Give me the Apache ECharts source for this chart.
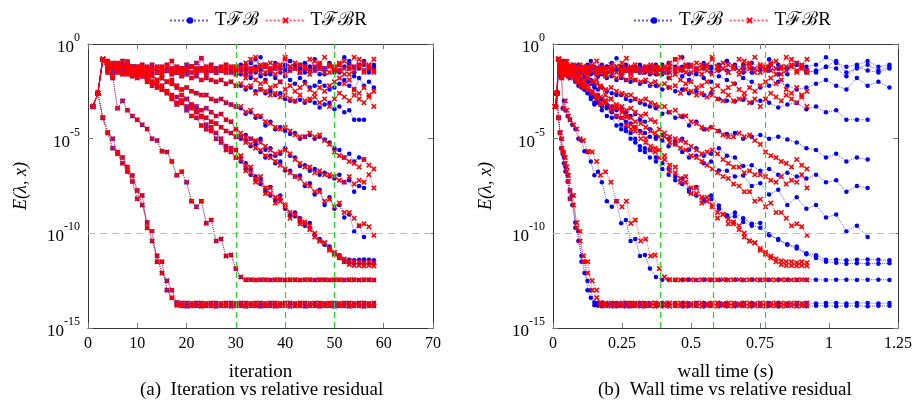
<!DOCTYPE html>
<html>
<head>
<meta charset="utf-8">
<title>Relative residual</title>
<script src="https://cdn.jsdelivr.net/npm/echarts@6/dist/echarts.min.js"></script>
<style>
  html, body { margin: 0; padding: 0; background: #fff; }
  #chart { width: 916px; height: 410px; }
</style>
</head>
<body>
<div id="chart"></div>
<script>
// log10 of the relative residual E(λ, x), one value per iteration (iteration 1 first)

// two fast problems, both methods nearly on top of each other
const p1 = [-3.3, -2.6, -3.9, -4.7, -5.5, -5.7, -6.0, -6.5, -6.95, -7.74,
  -8.5, -9.43, -10.4, -11.19, -12.1, -12.5, -13.0, -13.65,
  -13.68, -13.68, -13.7, -13.68, -13.68, -13.7, -13.68, -13.68, -13.7, -13.68,
  -13.68, -13.7, -13.68, -13.68, -13.7, -13.68, -13.68, -13.7, -13.68, -13.68,
  -13.7, -13.68, -13.68, -13.7, -13.68, -13.68, -13.7, -13.68, -13.68, -13.7,
  -13.68, -13.68, -13.7, -13.68, -13.68, -13.7, -13.68, -13.68, -13.7, -13.68];
const p2 = [-3.3, -2.6, -3.9, -4.67, -5.0, -5.8, -6.3, -6.74, -7.26, -8.18,
  -8.0, -9.7, -9.9, -11.5, -11.5, -13.0, -13.4, -13.8,
  -13.83, -13.85, -13.83, -13.83, -13.85, -13.83, -13.83, -13.85, -13.83, -13.83,
  -13.85, -13.83, -13.83, -13.85, -13.83, -13.83, -13.85, -13.83, -13.83, -13.85,
  -13.83, -13.83, -13.85, -13.83, -13.83, -13.85, -13.83, -13.83, -13.85, -13.83,
  -13.83, -13.85, -13.83, -13.83, -13.85, -13.83, -13.83, -13.85, -13.83, -13.83];
// problem that stalls at about 1e-12.5
const p3 = [-3.3, -2.6, -0.8, -1.3, -1.7, -3.4, -3.0, -3.5, -3.8, -4.0,
  -4.26, -4.49, -5.0, -5.1, -5.67, -5.7, -6.2, -6.93, -6.75, -7.3,
  -8.3, -8.6, -8.3, -9.47, -9.3, -10.4, -10.3, -11.2, -11.15, -11.86,
  -12.3, -12.45, -12.45, -12.46, -12.45, -12.45, -12.46, -12.45, -12.45, -12.46,
  -12.45, -12.45, -12.46, -12.45, -12.45, -12.46, -12.45, -12.45, -12.46, -12.45,
  -12.45, -12.46, -12.45, -12.45, -12.46, -12.45, -12.45, -12.46];

// slower problems: shared first 30 iterations, then T F B / T F B R tails
const p4Head = [-3.3, -2.6, -0.8, -1.3, -1.7, -1.4, -1.3, -1.5, -1.2, -1.5,
  -1.6, -1.7, -1.6, -1.9, -1.8, -2.0, -1.9, -2.3, -2.7, -2.9,
  -3.3, -3.5, -3.86, -4.26, -4.4, -4.7, -5.0, -5.4, -5.5, -5.6];
const p4TailB = [-6.0, -6.3, -6.6, -7.0, -7.1, -7.68, -7.55, -8.2, -8.0, -8.53,
  -9.05, -8.9, -9.2, -9.5, -9.45, -10.05, -10.35, -10.58, -10.7, -11.05,
  -11.16, -11.4, -11.4, -11.42, -11.4, -11.38, -11.4, -11.42];
const p4TailR = [-5.9, -6.4, -6.5, -7.1, -7.0, -7.6, -7.6, -8.1, -8.1, -8.5,
  -8.9, -9.0, -9.25, -9.4, -9.6, -10.0, -10.4, -10.5, -10.8, -11.0,
  -11.2, -11.35, -11.45, -11.5, -11.5, -11.55, -11.5, -11.55];

const p5Head = [-3.3, -2.6, -0.8, -1.0, -1.3, -1.2, -1.5, -1.3, -1.4, -1.6,
  -1.5, -1.8, -2.0, -2.1, -2.4, -2.5, -2.9, -3.2, -3.1, -3.5,
  -3.8, -3.9, -4.3, -4.5, -4.6, -5.0, -5.2, -5.6, -5.7, -6.0];
const p5TailB = [-6.2, -6.6, -6.9, -7.2, -7.4, -7.8, -8.0, -8.3, -8.2, -8.7,
  -9.1, -9.1, -9.4, -9.6, -9.7, -10.1, -10.3, -10.6, -10.8, -11.1,
  -11.3, -11.5, -11.55, -11.6, -11.58, -11.6, -11.6, -11.58];
const p5TailR = [-6.1, -6.7, -6.8, -7.3, -7.3, -7.9, -7.9, -8.4, -8.3, -8.6,
  -9.2, -9.0, -9.5, -9.5, -9.8, -10.2, -10.4, -10.5, -10.9, -11.1,
  -11.3, -11.5, -11.65, -11.7, -11.7, -11.72, -11.7, -11.72];

const p6Head = [-3.3, -2.6, -0.8, -1.2, -1.2, -1.0, -1.3, -1.4, -1.6, -1.5,
  -1.7, -1.9, -2.0, -2.3, -2.2, -2.6, -2.8, -3.1, -3.0, -3.3,
  -3.4, -3.6, -3.8, -3.9, -4.1, -4.2, -4.4, -4.6, -4.7, -4.9];
const p6TailB = [-5.0, -5.1, -5.4, -5.3, -5.7, -6.0, -5.9, -6.3, -6.2, -6.68,
  -6.7, -7.0, -6.95, -7.5, -7.35, -7.95, -7.7, -8.5, -8.1, -8.7,
  -8.5, -9.17, -9.0, -9.9, -9.6, -10.2];
const p6TailR = [-4.9, -5.2, -5.3, -5.5, -5.6, -5.9, -6.0, -6.2, -6.4, -6.6,
  -6.8, -7.0, -7.1, -7.4, -7.5, -7.8, -7.8, -8.3, -8.2, -8.6,
  -8.4, -8.9, -8.9, -9.2, -9.6, -9.5, -9.65, -10.1];

const p7Head = [-3.3, -2.6, -0.8, -1.4, -1.1, -1.3, -1.5, -1.4, -1.7, -1.8,
  -1.7, -2.0, -2.2, -2.1, -2.4, -2.5, -2.7, -2.8, -3.0, -2.9,
  -3.2, -3.3, -3.5, -3.4, -3.6, -3.8, -3.7, -4.0, -4.1, -4.5];
const p7TailB = [-4.9, -4.8, -5.0, -5.14, -5.0, -5.58, -5.5, -5.9, -5.8, -5.5,
  -5.9, -6.0, -6.45, -6.4, -6.7, -6.6, -6.9, -6.8, -7.0, -7.1,
  -6.9, -7.3, -7.2, -7.8, -7.5, -7.6];
const p7TailR = [-4.7, -4.9, -5.0, -5.1, -5.2, -5.4, -5.6, -5.8, -5.7, -5.6,
  -5.8, -6.1, -6.3, -6.5, -6.5, -6.8, -6.7, -6.9, -6.9, -7.0,
  -7.2, -7.3, -7.0, -7.4, -7.2, -7.3, -6.9, -7.6];

const p8Head = [-3.3, -2.6, -0.8, -1.2, -1.0, -1.1, -1.3, -1.2, -1.4, -1.5,
  -1.4, -1.6, -1.7, -1.9, -1.8, -2.0, -2.1, -2.2, -2.4, -2.3,
  -2.5, -2.6, -2.7, -2.7, -2.9, -3.0, -2.9, -3.1, -3.2, -3.3];
const p8TailB = [-3.4, -3.68, -3.6, -3.9, -3.85, -4.3, -4.1, -4.5, -4.4, -4.6,
  -4.75, -4.7, -5.0, -4.9, -4.8, -5.0, -4.9, -5.05, -5.2, -5.5,
  -5.6, -6.0, -5.8, -6.2, -6.0, -6.1];
const p8TailR = [-3.3, -3.6, -3.5, -3.8, -3.8, -4.1, -4.2, -4.4, -4.5, -4.4,
  -4.6, -4.8, -4.9, -4.9, -4.7, -4.9, -4.8, -5.1, -5.3, -5.7,
  -5.9, -6.0, -6.2, -6.3, -6.5, -6.1, -6.4, -6.6];

const p9Head = [-3.3, -2.6, -0.8, -1.0, -1.2, -1.1, -0.9, -1.2, -1.3, -1.2,
  -1.1, -1.3, -1.4, -1.3, -1.5, -1.4, -1.6, -1.5, -1.7, -1.6,
  -1.8, -1.7, -1.9, -1.8, -1.9, -2.0, -1.9, -2.1, -2.0, -2.2];
const p9TailB = [-2.2, -2.4, -2.3, -2.5, -2.4, -2.6, -2.5, -2.7, -2.6, -2.9,
  -3.0, -3.04, -2.95, -3.1, -3.0, -3.1, -3.35, -3.2, -3.1, -3.44,
  -3.3, -3.6, -3.5, -4.0, -4.0, -4.0];
const p9TailR = [-2.1, -2.3, -2.2, -2.6, -2.4, -2.5, -2.7, -2.6, -2.8, -2.7,
  -2.9, -3.0, -2.7, -3.0, -2.9, -2.8, -3.1, -2.9, -3.3, -2.9,
  -2.6, -2.8, -3.0, -2.7, -2.9, -3.1, -2.8, -3.3];

// problems that stagnate around 1e-1 .. 1e-2
const s1Head = [-3.3, -2.6, -0.8, -1.4, -1.2, -1.5, -1.3, -1.1, -1.4, -1.6,
  -1.2, -1.4, -1.3, -1.5, -1.2, -1.4, -1.3, -1.4, -1.5, -1.3,
  -1.2, -1.4, -1.3, -1.5, -1.4, -1.3, -1.4, -1.2, -1.5, -1.3];
const s1TailB = [-1.4, -1.1, -1.5, -1.3, -1.2, -1.6, -1.4, -1.3, -1.5, -1.2,
  -1.4, -1.1, -1.3, -1.5, -1.2, -1.4, -1.3, -1.6, -1.1, -1.4,
  -1.5, -1.2, -1.3, -1.7, -1.2, -1.4, -1.5, -1.3];
const s1TailR = [-1.3, -1.5, -0.8, -1.4, -1.2, -1.5, -1.3, -1.1, -1.4, -1.6,
  -1.2, -1.3, -1.5, -1.2, -1.4, -0.9, -1.3, -1.5, -1.2, -1.4,
  -1.1, -1.6, -1.3, -1.2, -0.8, -1.4, -1.2, -1.5];

const s2Head = [-3.3, -2.6, -0.8, -1.2, -1.5, -1.3, -1.6, -0.93, -1.2, -1.3,
  -1.5, -1.4, -1.1, -1.3, -1.6, -1.4, -0.9, -1.5, -1.3, -1.4,
  -1.2, -1.5, -0.75, -1.3, -1.4, -1.5, -1.3, -1.4, -1.2, -1.4];
const s2TailB = [-1.2, -1.6, -1.3, -0.8, -1.4, -1.2, -1.5, -1.1, -1.3, -1.4,
  -0.9, -1.2, -1.5, -1.3, -1.4, -1.2, -1.6, -1.3, -1.1, -1.5,
  -1.4, -1.2, -0.9, -1.5, -1.3, -1.1, -1.4, -1.2];
const s2TailR = [-1.5, -1.2, -1.4, -1.3, -1.5, -1.1, -1.4, -1.6, -1.2, -0.8,
  -1.4, -1.3, -1.5, -1.2, -1.6, -1.4, -1.1, -1.3, -1.5, -1.2,
  -1.4, -1.3, -1.6, -1.4, -1.2, -1.5, -1.1, -1.4];

const s3Head = [-3.3, -2.6, -0.8, -0.9, -1.3, -1.1, -1.2, -1.6, -1.5, -1.2,
  -1.4, -1.6, -1.3, -1.5, -1.4, -1.2, -1.5, -1.3, -1.6, -1.4,
  -1.5, -1.3, -1.4, -1.6, -1.3, -1.5, -1.4, -1.5, -1.3, -1.6];
const s3TailB = [-1.6, -1.4, -1.8, -1.5, -1.7, -1.9, -1.6, -1.8, -2.0, -1.7,
  -1.9, -2.1, -1.8, -2.0, -2.3, -2.2, -2.0, -2.2, -2.4, -2.3,
  -2.1, -1.9, -2.2, -2.4, -1.8, -2.2, -2.0, -2.3];
const s3TailR = [-1.5, -1.8, -1.6, -1.9, -2.1, -2.0, -2.3, -2.2, -2.0, -2.4,
  -2.2, -2.5, -2.3, -2.1, -2.4, -2.6, -2.3, -2.5, -2.2, -2.0,
  -1.8, -2.1, -1.9, -2.4, -2.6, -2.3, -2.7, -2.5];

const s4Head = [-3.3, -2.6, -0.8, -1.5, -1.8, -1.4, -1.1, -1.3, -1.2, -1.4,
  -1.3, -1.2, -1.4, -1.2, -1.3, -1.1, -1.4, -1.2, -1.3, -1.1,
  -1.2, -1.0, -1.3, -1.2, -1.1, -1.3, -1.2, -1.1, -1.3, -1.2];
const s4TailB = [-1.1, -1.3, -1.0, -1.2, -0.7, -1.1, -1.3, -1.0, -1.2, -1.1,
  -0.9, -1.3, -1.1, -1.0, -1.2, -0.8, -1.1, -1.3, -1.0, -1.2,
  -1.1, -0.7, -1.0, -1.2, -1.1, -0.9, -1.2, -1.1];
const s4TailR = [-1.2, -1.0, -1.3, -0.7, -1.1, -1.2, -1.0, -1.3, -1.1, -0.7,
  -1.2, -1.0, -1.1, -1.3, -0.8, -1.2, -1.0, -0.7, -1.1, -1.3,
  -1.0, -0.9, -1.2, -0.7, -1.1, -1.0, -1.3, -0.8];

// cumulative wall time (s) after each iteration, index = iteration
const wallTimeB = [0, 0.01, 0.015, 0.02, 0.025, 0.03, 0.035, 0.04, 0.045, 0.053,
  0.061, 0.07, 0.081, 0.092, 0.103, 0.114, 0.125, 0.137, 0.15, 0.163,
  0.177, 0.195, 0.213, 0.23, 0.247, 0.264, 0.281, 0.298, 0.315, 0.333,
  0.351, 0.373, 0.396, 0.419, 0.443, 0.468, 0.493, 0.519, 0.546, 0.573,
  0.601, 0.63, 0.659, 0.689, 0.72, 0.751, 0.783, 0.816, 0.849, 0.883,
  0.918, 0.953, 0.989, 1.026, 1.063, 1.101, 1.14, 1.179, 1.219];
const wallTimeR = [0, 0.008, 0.014, 0.02, 0.026, 0.032, 0.038, 0.044, 0.05, 0.056,
  0.062, 0.074, 0.086, 0.098, 0.11, 0.126, 0.142, 0.158, 0.172, 0.19,
  0.21, 0.23, 0.25, 0.266, 0.282, 0.298, 0.318, 0.336, 0.354, 0.37,
  0.385, 0.404, 0.423, 0.443, 0.462, 0.481, 0.5, 0.52, 0.539, 0.558,
  0.577, 0.596, 0.616, 0.635, 0.654, 0.674, 0.693, 0.712, 0.731, 0.751,
  0.77, 0.789, 0.808, 0.827, 0.845, 0.864, 0.883, 0.901, 0.92];

const markIterations = [30, 40, 50];
const yTicks = [0, -5, -10, -15];
const nameB = 'T\u2131\u212C';
const nameR = 'T\u2131\u212CR';

const runsB = [p1, p2, p3,
  p4Head.concat(p4TailB), p5Head.concat(p5TailB), p6Head.concat(p6TailB),
  p7Head.concat(p7TailB), p8Head.concat(p8TailB), p9Head.concat(p9TailB),
  s1Head.concat(s1TailB), s2Head.concat(s2TailB), s3Head.concat(s3TailB), s4Head.concat(s4TailB)];
const runsR = [p1, p2, p3,
  p4Head.concat(p4TailR), p5Head.concat(p5TailR), p6Head.concat(p6TailR),
  p7Head.concat(p7TailR), p8Head.concat(p8TailR), p9Head.concat(p9TailR),
  s1Head.concat(s1TailR), s2Head.concat(s2TailR), s3Head.concat(s3TailR), s4Head.concat(s4TailR)];

const serif = '"Liberation Serif", "DejaVu Serif", serif';
// bold "x" marker
const crossPath = 'path://M0,2L2,0L5,3L8,0L10,2L7,5L10,8L8,10L5,7L2,10L0,8L3,5Z';

function points(vals, times) {
  return vals.map((v, k) => [times ? times[k + 1] : k + 1, v]);
}

function runSeries(name, data, panel, red) {
  return {
    name: name,
    type: 'line',
    xAxisIndex: panel * 2,
    yAxisIndex: panel * 2,
    data: data,
    symbol: red ? crossPath : 'circle',
    symbolSize: red ? 5.5 : 4.5,
    showSymbol: true,
    itemStyle: { color: red ? '#ff0000' : '#0000ff' },
    lineStyle: { color: red ? 'rgba(255,0,0,0.65)' : 'rgba(0,0,255,0.65)', width: 1, type: 'dotted' },
    z: red ? 3 : 2,
    silent: true
  };
}

function guideSeries(panel, xs) {
  return {
    name: 'guides',
    type: 'line',
    xAxisIndex: panel * 2,
    yAxisIndex: panel * 2,
    data: [],
    z: 4,
    markLine: {
      silent: true,
      symbol: 'none',
      animation: false,
      label: { show: false },
      data: [{ yAxis: -10, lineStyle: { color: '#bdbdbd', type: [7, 5], width: 1 } }]
        .concat(xs.map(x => ({ xAxis: x, lineStyle: { color: '#22dd22', type: [6, 4], width: 1.2 } })))
    }
  };
}

function xAxisPair(grid, max, interval, name) {
  const base = {
    type: 'value', gridIndex: grid, min: 0, max: max, interval: interval,
    axisLine: { show: true, onZero: false, lineStyle: { color: '#333', width: 1 } },
    axisTick: { show: true, inside: true, length: 5, lineStyle: { color: '#777' } },
    splitLine: { show: false }
  };
  return [
    Object.assign({}, base, {
      position: 'bottom',
      axisLabel: { color: '#000', fontFamily: serif, fontSize: 16, margin: 8 },
      name: name, nameLocation: 'middle', nameGap: 35,
      nameTextStyle: { color: '#000', fontFamily: serif, fontSize: 19 }
    }),
    Object.assign({}, base, { position: 'top', axisLabel: { show: false } })
  ];
}

function yAxisPair(grid) {
  const base = {
    type: 'value', gridIndex: grid, min: -15, max: 0, interval: 5,
    axisLine: { show: true, onZero: false, lineStyle: { color: '#333', width: 1 } },
    axisTick: { show: true, inside: true, length: 5, lineStyle: { color: '#777' } },
    splitLine: { show: false }
  };
  return [
    Object.assign({}, base, {
      position: 'left',
      axisLabel: {
        margin: 8,
        formatter: v => yTicks.indexOf(v) >= 0 ? '{b|10}{s|' + v + '}' : '',
        rich: {
          b: { fontFamily: serif, fontSize: 17, color: '#000', padding: [7, 0, 0, 0] },
          s: { fontFamily: serif, fontSize: 12, color: '#000', verticalAlign: 'top' }
        }
      },
      name: 'E(\u03BB, x)', nameLocation: 'middle', nameGap: 58, nameRotate: 90,
      nameTextStyle: { color: '#000', fontFamily: serif, fontSize: 18, fontStyle: 'italic' }
    }),
    Object.assign({}, base, { position: 'right', axisLabel: { show: false } })
  ];
}

const series = [];
runsB.forEach(v => series.push(runSeries(nameB, points(v, null), 0, false)));
runsR.forEach(v => series.push(runSeries(nameR, points(v, null), 0, true)));
series.push(guideSeries(0, markIterations));
runsB.forEach(v => series.push(runSeries(nameB, points(v, wallTimeB), 1, false)));
runsR.forEach(v => series.push(runSeries(nameR, points(v, wallTimeR), 1, true)));
series.push(guideSeries(1, markIterations.map(i => wallTimeR[i])));

const legendBase = {
  data: [nameB, nameR], top: 6, itemWidth: 40, itemHeight: 8, itemGap: 6,
  textStyle: { fontFamily: serif, fontSize: 19, color: '#000' }, selectedMode: false
};

const chart = echarts.init(document.getElementById('chart'), null, { renderer: 'canvas' });
chart.setOption({
  animation: false,
  backgroundColor: '#fff',
  legend: [
    Object.assign({ left: 164 }, legendBase),
    Object.assign({ left: 628 }, legendBase)
  ],
  grid: [
    { left: 88, right: 483, top: 44, bottom: 82 },
    { left: 553, right: 18, top: 44, bottom: 82 }
  ],
  xAxis: xAxisPair(0, 70, 10, 'iteration').concat(xAxisPair(1, 1.25, 0.25, 'wall time (s)')),
  yAxis: yAxisPair(0).concat(yAxisPair(1)),
  graphic: [
    { type: 'text', left: 140, top: 381, style: { text: '(a)  Iteration vs relative residual', font: '19px ' + serif, fill: '#000' } },
    { type: 'text', left: 598, top: 381, style: { text: '(b)  Wall time vs relative residual', font: '19px ' + serif, fill: '#000' } }
  ],
  series: series
});
</script>
</body>
</html>
